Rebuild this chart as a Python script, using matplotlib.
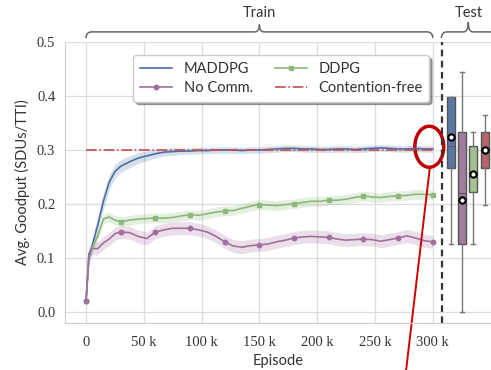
import numpy as np
import matplotlib
matplotlib.use('Agg')
import matplotlib.pyplot as plt
from matplotlib.path import Path
from matplotlib.patches import PathPatch, Ellipse
import matplotlib.transforms as mtransforms

#%% data (episodes in thousands)
episodes = [0, 2.5, 5, 10, 15, 20, 25, 30, 37.5, 45, 52.5, 60, 67.5, 75, 82.5, 90, 97.5,
            105, 112.5, 120, 127.5, 135, 142.5, 150, 157.5, 165, 172.5, 180, 187.5, 195,
            202.5, 210, 217.5, 225, 232.5, 240, 247.5, 255, 262.5, 270, 277.5, 285, 292.5, 300]

maddpg = [0.02, 0.10, 0.12, 0.16, 0.205, 0.24, 0.26, 0.27, 0.278, 0.285, 0.289, 0.293, 0.296,
          0.297, 0.298, 0.298, 0.299, 0.299, 0.300, 0.300, 0.300, 0.299, 0.300, 0.300, 0.301,
          0.302, 0.303, 0.303, 0.302, 0.302, 0.301, 0.301, 0.302, 0.302, 0.301, 0.302, 0.303,
          0.304, 0.303, 0.302, 0.302, 0.303, 0.302, 0.302]
maddpg_err = [0.004, 0.012, 0.014, 0.015, 0.015, 0.014, 0.013, 0.012, 0.011, 0.01, 0.009, 0.008,
              0.007, 0.007, 0.006, 0.006, 0.006, 0.006, 0.006, 0.006, 0.006, 0.006, 0.006, 0.006,
              0.006, 0.006, 0.006, 0.006, 0.006, 0.006, 0.006, 0.006, 0.006, 0.006, 0.006, 0.006,
              0.006, 0.006, 0.006, 0.006, 0.006, 0.006, 0.006, 0.006]

ddpg = [0.02, 0.108, 0.118, 0.14, 0.172, 0.176, 0.17, 0.167, 0.17, 0.172, 0.173, 0.174, 0.174,
        0.175, 0.178, 0.18, 0.179, 0.182, 0.185, 0.187, 0.188, 0.192, 0.196, 0.199, 0.198,
        0.197, 0.199, 0.2, 0.203, 0.205, 0.205, 0.207, 0.207, 0.209, 0.212, 0.215, 0.213,
        0.212, 0.214, 0.215, 0.216, 0.218, 0.218, 0.217]
ddpg_err = [0.004] + [0.009] * 43

nocomm = [0.02, 0.108, 0.118, 0.117, 0.128, 0.135, 0.145, 0.148, 0.147, 0.14, 0.136, 0.148,
          0.152, 0.155, 0.155, 0.155, 0.152, 0.148, 0.14, 0.13, 0.122, 0.12, 0.123, 0.124,
          0.126, 0.13, 0.133, 0.137, 0.139, 0.14, 0.139, 0.138, 0.135, 0.133, 0.134, 0.135,
          0.134, 0.131, 0.134, 0.137, 0.141, 0.137, 0.132, 0.13]
nocomm_err = [0.004] + [0.012] * 43

free_x = [0, 300]
free_y = [0.3, 0.3]

# test boxplots
box_names = ['MADDPG', 'No Comm.', 'DDPG', 'Contention-free']
box_pos = [315.7, 325, 334.8, 345.2]
box_q1 = [0.267, 0.126, 0.222, 0.267]
box_med = [0.307, 0.22, 0.26, 0.30]
box_q3 = [0.398, 0.333, 0.307, 0.333]
box_lo = [0.126, 0.0, 0.126, 0.198]
box_hi = [0.398, 0.444, 0.333, 0.365]
box_mean = [0.324, 0.207, 0.255, 0.30]

xticks = [0, 50, 100, 150, 200, 250, 300]
xticklabels = ['0', '50 k', '100 k', '150 k', '200 k', '250 k', '300 k']
yticks = [0.0, 0.1, 0.2, 0.3, 0.4, 0.5]

c_maddpg = '#4a6fa5'
c_ddpg = '#8db87a'
c_nocomm = '#a06f9c'
c_free = '#c44e52'
box_colors = ['#5a77a6', '#9f7d9d', '#a5c192', '#b6666a']

sans = ['Lato', 'DejaVu Sans']
serif = ['Liberation Serif', 'DejaVu Serif']

#%% plot
fig = plt.figure(figsize=(4.91, 3.70), dpi=100)
ax = fig.add_axes([65/491, 47/370, 426/491, 281/370])

ep = np.array(episodes)
marks = [i for i, e in enumerate(episodes) if e % 30 == 0]

lines = {}
for vals, err, col, mk, lab in [(maddpg, maddpg_err, c_maddpg, None, 'MADDPG'),
                                (ddpg, ddpg_err, c_ddpg, 's', 'DDPG'),
                                (nocomm, nocomm_err, c_nocomm, 'o', 'No Comm.')]:
    v = np.array(vals)
    e = np.array(err)
    ax.fill_between(ep, v - e, v + e, color=col, alpha=0.22, lw=0)
    lines[lab], = ax.plot(ep, v, color=col, lw=1.2, marker=mk, markersize=3.2,
                          markevery=marks, label=lab)

lines['Contention-free'], = ax.plot(free_x, free_y, color=c_free, lw=1.2, ls='-.',
                                    label='Contention-free')

# test boxes
stats = []
for i in range(len(box_names)):
    stats.append(dict(label=box_names[i], q1=box_q1[i], med=box_med[i], q3=box_q3[i],
                      whislo=box_lo[i], whishi=box_hi[i], mean=box_mean[i], fliers=[]))
bp = ax.bxp(stats, positions=box_pos, widths=7, patch_artist=True, showmeans=True,
            manage_ticks=False,
            boxprops=dict(edgecolor='#555555', lw=1),
            whiskerprops=dict(color='#777777', lw=1),
            capprops=dict(color='#777777', lw=1),
            medianprops=dict(color='#555555', lw=0.8),
            meanprops=dict(marker='o', markerfacecolor='white', markeredgecolor='black',
                           markersize=4.5, markeredgewidth=1.5))
for patch, col in zip(bp['boxes'], box_colors):
    patch.set_facecolor(col)

ax.axvline(308, color='#333333', ls=(0, (3, 2)), lw=1.6)

ax.set_xlim(-18.2, 350.4)
ax.set_ylim(-0.0204, 0.5)
ax.set_xticks(xticks)
ax.set_xticklabels(xticklabels, family=serif, fontsize=10.5, color='#333333')
ax.set_yticks(yticks)
ax.set_yticklabels(['%.1f' % t for t in yticks], family=serif, fontsize=10.5, color='#333333')
ax.tick_params(axis='x', length=0, pad=9)
ax.tick_params(axis='y', length=0, pad=7)
ax.grid(color='#dddddd', lw=0.9)
ax.set_axisbelow(True)
for s in ['top', 'right']:
    ax.spines[s].set_visible(False)
for s in ['left', 'bottom']:
    ax.spines[s].set_color('#cccccc')

ax.set_xlabel('Episode', family=sans, fontsize=10.5, color='#333333', labelpad=4)
ax.set_ylabel('Avg. Goodput (SDUs/TTI)', family=sans, fontsize=10.5, color='#333333', labelpad=5)

order = ['MADDPG', 'No Comm.', 'DDPG', 'Contention-free']
leg = ax.legend([lines[k] for k in order], order, ncol=2, loc='upper right',
                bbox_to_anchor=(0.872, 0.978), shadow=True,
                fancybox=True, framealpha=1, edgecolor='#cccccc', borderpad=0.45,
                columnspacing=1.5, handlelength=2.2, labelspacing=0.35,
                prop=dict(family=sans, size=10.5))
for t in leg.get_texts():
    t.set_color('#333333')

# braces over train / test
trans = mtransforms.blended_transform_factory(ax.transData, ax.transAxes)


def brace(x0, x1, top):
    xm = (x0 + x1) / 2
    lo, mid = 1.014, 1.036
    verts = [(x0, lo), (x0, mid), (x0 + 5, mid), (xm - 4, mid), (xm, mid), (xm, top),
             (xm, mid), (xm + 4, mid), (x1 - 5, mid), (x1, mid), (x1, lo)]
    codes = [Path.MOVETO, Path.CURVE3, Path.CURVE3, Path.LINETO, Path.CURVE3, Path.CURVE3,
             Path.CURVE3, Path.CURVE3, Path.LINETO, Path.CURVE3, Path.CURVE3]
    ax.add_patch(PathPatch(Path(verts, codes), fill=False, ec='#666666', lw=1.1,
                           transform=trans, clip_on=False))


brace(0, 300, 1.062)
brace(307.5, 354, 1.07)
ax.text(150, 1.077, 'Train', transform=trans, ha='center', va='bottom', family=sans,
        fontsize=10.5, color='#333333')
ax.text(331, 1.077, 'Test', transform=trans, ha='center', va='bottom', family=sans,
        fontsize=10.5, color='#333333')

# red highlight
ax.add_patch(Ellipse((297, 0.306), 25, 0.076, fill=False, ec='#c00000', lw=2.5, clip_on=False))
ax.plot([297.5, 277], [0.268, -0.107], color='#d00000', lw=1.4, clip_on=False)

fig.savefig('out.png', dpi=100)
